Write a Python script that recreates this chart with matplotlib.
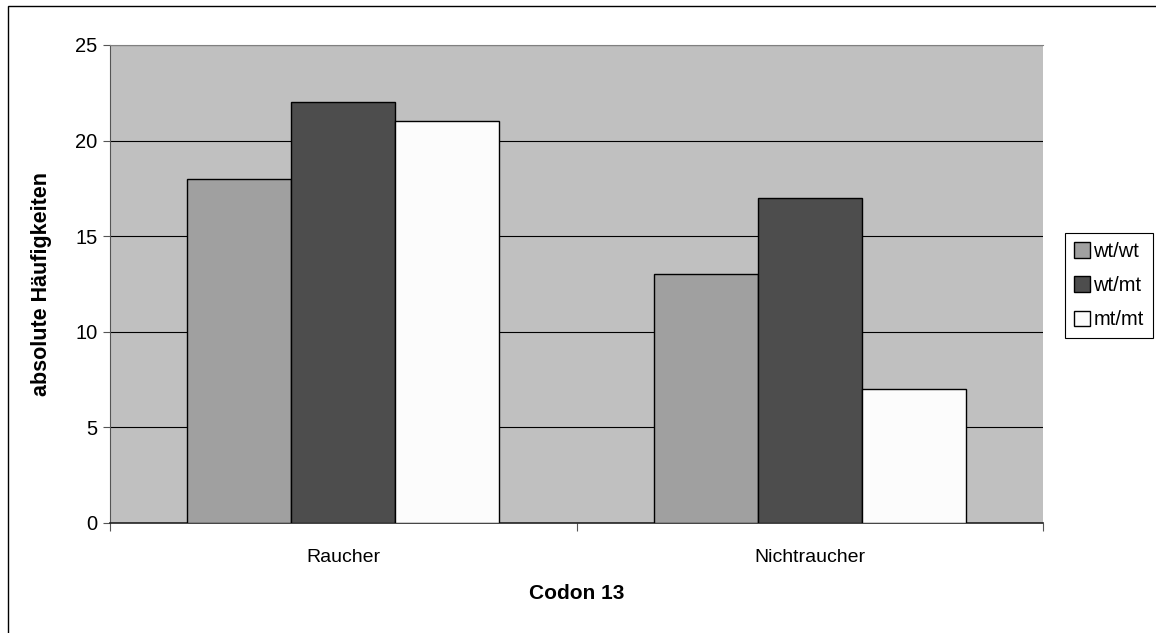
import matplotlib
matplotlib.use("Agg")
import matplotlib.pyplot as plt
import numpy as np
from matplotlib.patches import Rectangle

categories = ["Raucher", "Nichtraucher"]
series_names = ["wt/wt", "wt/mt", "mt/mt"]
wt_wt = [18, 13]
wt_mt = [22, 17]
mt_mt = [21, 7]
colors = ["#A0A0A0", "#4D4D4D", "#FCFCFC"]

plt.rcParams["font.family"] = ["Liberation Sans", "DejaVu Sans"]

fig = plt.figure(figsize=(11.56, 6.33), dpi=100)
ax = fig.add_axes([110 / 1156, 1 - 523 / 633, (1043 - 110) / 1156, (523 - 45) / 633])
ax.set_facecolor("#C0C0C0")

x = np.arange(len(categories))
width = 0.223
for i, (name, vals, col) in enumerate(zip(series_names, [wt_wt, wt_mt, mt_mt], colors)):
    ax.bar(x + (i - 1) * width, vals, width, color=col, edgecolor="black",
           linewidth=1.0, label=name, zorder=3)

ax.set_xlim(-0.5, 1.5)
ax.set_ylim(0, 25)
ax.set_yticks(range(0, 26, 5))
ax.yaxis.grid(True, color="black", linewidth=0.8, zorder=1)
ax.set_axisbelow(True)

ax.set_xticks(x)
ax.set_xticklabels(categories, fontsize=14)
ax.tick_params(axis="x", which="major", length=0, pad=19)
ax.set_xticks([-0.5, 0.5, 1.5], minor=True)
ax.tick_params(axis="x", which="minor", length=6, width=0.8, color="#555555")
ax.tick_params(axis="y", labelsize=14.5, length=5, width=0.8, color="#555555", pad=4)

ax.spines["top"].set_color("#808080")
ax.spines["right"].set_visible(False)
ax.spines["left"].set_color("#555555")
ax.spines["bottom"].set_color("#222222")
ax.spines["bottom"].set_linewidth(1.2)

ax.set_xlabel("Codon 13", fontsize=15, fontweight="bold", labelpad=13)
ax.set_ylabel("absolute Häufigkeiten", fontsize=15.5, fontweight="bold", labelpad=17)

leg = ax.legend(loc="upper left", bbox_to_anchor=(1065 / 1156, 1 - 233 / 633),
                bbox_transform=fig.transFigure, fontsize=14.5, frameon=True,
                fancybox=False, edgecolor="black", framealpha=1,
                handlelength=0.8, handleheight=0.8, handletextpad=0.15,
                labelspacing=0.75, borderpad=0.45, borderaxespad=0)
leg.get_frame().set_linewidth(0.8)

fig.patches.append(Rectangle((8 / 1156, -0.1), 1.2, 1.1 - 6 / 633,
                             transform=fig.transFigure, fill=False,
                             edgecolor="black", linewidth=1.0))

fig.savefig("out.png", dpi=100)
